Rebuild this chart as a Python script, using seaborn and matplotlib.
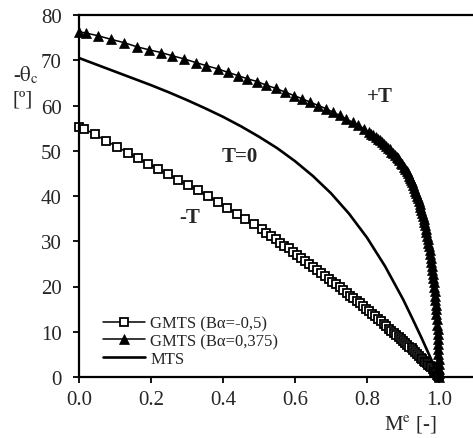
import matplotlib
matplotlib.use("Agg")
import matplotlib.pyplot as plt
import seaborn as sns
import pandas as pd

# GMTS, B-alpha = -0.5 (open squares)
me_neg = [0.000, 0.015, 0.045, 0.075, 0.105, 0.135, 0.165, 0.193, 0.220, 0.247,
          0.275, 0.303, 0.330, 0.357, 0.385, 0.412, 0.438, 0.462, 0.485, 0.507,
          0.520, 0.533, 0.546, 0.558, 0.570, 0.582, 0.594, 0.606, 0.618, 0.629,
          0.640, 0.651, 0.662, 0.673, 0.684, 0.694, 0.704, 0.714, 0.724, 0.734,
          0.744, 0.753, 0.762, 0.771, 0.780, 0.789, 0.798, 0.806, 0.814, 0.822,
          0.830, 0.838, 0.846, 0.853, 0.860, 0.867, 0.874, 0.881, 0.888, 0.894,
          0.900, 0.906, 0.912, 0.918, 0.924, 0.929, 0.934, 0.939, 0.944, 0.949,
          0.954, 0.958, 0.962, 0.966, 0.970, 0.974, 0.978, 0.982, 0.985, 0.988,
          0.991, 0.994, 0.997, 1.000]
th_neg = [55.3, 54.8, 53.6, 52.2, 50.9, 49.6, 48.3, 47.1, 46.0, 44.8,
          43.6, 42.4, 41.3, 40.0, 38.7, 37.4, 36.1, 34.9, 33.8, 32.6,
          31.9, 31.1, 30.4, 29.7, 29.0, 28.4, 27.7, 27.0, 26.3, 25.6,
          25.0, 24.3, 23.7, 23.0, 22.4, 21.7, 21.1, 20.5, 19.8, 19.2,
          18.6, 18.0, 17.4, 16.8, 16.3, 15.7, 15.1, 14.5, 14.0, 13.4,
          12.8, 12.3, 11.7, 11.2, 10.7, 10.2, 9.7, 9.3, 8.8, 8.3,
          7.9, 7.5, 7.1, 6.7, 6.3, 5.9, 5.5, 5.1, 4.7, 4.3,
          3.9, 3.6, 3.3, 3.0, 2.7, 2.4, 2.1, 1.7, 1.4, 1.1,
          0.8, 0.5, 0.2, 0.0]

# GMTS, B-alpha = 0.375 (filled triangles)
me_pos = [0.000, 0.020, 0.054, 0.090, 0.125, 0.160, 0.195, 0.228, 0.259, 0.292,
          0.324, 0.354, 0.385, 0.415, 0.442, 0.468, 0.495, 0.520, 0.546, 0.572,
          0.597, 0.620, 0.643, 0.665, 0.686, 0.706, 0.725, 0.743, 0.760, 0.776,
          0.791, 0.805, 0.812, 0.818, 0.824, 0.830, 0.836, 0.842, 0.848, 0.853,
          0.858, 0.863, 0.868, 0.873, 0.878, 0.882, 0.886, 0.890, 0.894, 0.898,
          0.902, 0.906, 0.910, 0.913, 0.916, 0.919, 0.922, 0.925, 0.928, 0.931,
          0.934, 0.936, 0.939, 0.941, 0.944, 0.946, 0.948, 0.951, 0.953, 0.955,
          0.957, 0.959, 0.961, 0.963, 0.965, 0.967, 0.969, 0.970, 0.972, 0.974,
          0.975, 0.977, 0.978, 0.980, 0.981, 0.983, 0.984, 0.985, 0.986, 0.988,
          0.989, 0.990, 0.991, 0.992, 0.993, 0.994, 0.995, 0.996, 0.9965, 0.997,
          0.9975, 0.998, 0.9985, 0.999, 0.9993, 0.9996, 0.9998, 1.000]
th_pos = [76.3, 76.0, 75.4, 74.6, 73.9, 73.0, 72.3, 71.7, 71.0, 70.3,
          69.5, 68.8, 68.1, 67.3, 66.6, 65.9, 65.3, 64.5, 63.8, 63.0,
          62.2, 61.5, 60.7, 60.0, 59.3, 58.5, 57.8, 57.0, 56.3, 55.6,
          54.9, 54.1, 53.7, 53.4, 53.0, 52.7, 52.3, 51.9, 51.5, 51.1,
          50.7, 50.3, 49.8, 49.4, 49.0, 48.7, 48.3, 47.9, 47.4, 47.0,
          46.5, 46.0, 45.5, 45.0, 44.5, 44.0, 43.5, 43.0, 42.4, 41.8,
          41.2, 40.7, 40.1, 39.5, 38.8, 38.2, 37.6, 36.9, 36.2, 35.6,
          34.9, 34.2, 33.5, 32.8, 32.0, 31.2, 30.4, 29.7, 28.9, 28.0,
          27.2, 26.3, 25.5, 24.6, 23.7, 22.8, 21.9, 21.0, 20.0, 19.0,
          18.0, 17.0, 16.0, 15.0, 13.9, 12.8, 11.6, 10.5, 9.4, 8.3,
          7.2, 6.1, 5.0, 3.9, 2.8, 1.8, 0.9, 0.0]

# MTS (solid line)
me_mts = [0.00, 0.05, 0.10, 0.15, 0.20, 0.25, 0.30, 0.35, 0.40, 0.45, 0.50,
          0.55, 0.60, 0.65, 0.70, 0.75, 0.80, 0.85, 0.90, 0.925, 0.95, 0.975, 1.00]
th_mts = [70.5, 69.0, 67.5, 66.0, 64.5, 62.9, 61.2, 59.4, 57.5, 55.4, 53.1,
          50.6, 47.7, 44.4, 40.6, 36.1, 30.8, 24.5, 17.2, 13.1, 8.9, 4.5, 0.0]

labels = ["GMTS (B\u03b1=-0,5)", "GMTS (B\u03b1=0,375)", "MTS"]

sns.set_style("ticks")
plt.rcParams["font.family"] = ["Liberation Serif", "DejaVu Serif"]
plt.rcParams["mathtext.fontset"] = "stix"

fig = plt.figure(figsize=(4.73, 4.39), dpi=100)
ax = fig.add_axes([79 / 473, 1 - 378 / 439, 394 / 473, 362 / 439])

df_neg = pd.DataFrame({"me": me_neg, "theta": th_neg})
df_pos = pd.DataFrame({"me": me_pos, "theta": th_pos})
df_mts = pd.DataFrame({"me": me_mts, "theta": th_mts})

sns.lineplot(data=df_neg, x="me", y="theta", ax=ax, sort=False, estimator=None,
             color="black", linewidth=1.1, marker="s", markersize=6.3,
             markerfacecolor="white", markeredgecolor="black", markeredgewidth=1.3,
             label=labels[0], clip_on=False)
sns.lineplot(data=df_pos, x="me", y="theta", ax=ax, sort=False, estimator=None,
             color="black", linewidth=1.1, marker="^", markersize=7.2,
             markerfacecolor="black", markeredgecolor="black", markeredgewidth=0.5,
             label=labels[1], clip_on=False)
sns.lineplot(data=df_mts, x="me", y="theta", ax=ax, sort=False, estimator=None,
             color="black", linewidth=1.9, label=labels[2])

ax.set_xlim(0, 394 / 360)
ax.set_ylim(0, 80)
ax.set_xticks([0.0, 0.2, 0.4, 0.6, 0.8, 1.0])
ax.set_xticklabels(["0.0", "0.2", "0.4", "0.6", "0.8", "1.0"])
ax.set_yticks(range(0, 81, 10))
ax.tick_params(axis="both", direction="out", length=4.5, width=1.3,
               labelsize=15, color="black")
ax.tick_params(axis="y", pad=8)
ax.tick_params(axis="x", pad=5)
ax.set_xlabel("")
ax.set_ylabel("")

for side in ["left", "bottom", "top"]:
    ax.spines[side].set_linewidth(1.6)
    ax.spines[side].set_color("black")
ax.spines["right"].set_visible(False)

ax.text(0.836, 62.1, "+T", fontsize=15, fontweight="bold", ha="center", va="center")
ax.text(0.447, 48.8, "T=0", fontsize=15, fontweight="bold", ha="center", va="center")
ax.text(0.308, 35.4, "-T", fontsize=15, fontweight="bold", ha="center", va="center")

fig.text(26 / 473, 1 - 75 / 439, r"-$\mathrm{\theta}_{\mathrm{c}}$", fontsize=15,
         ha="center", va="center")
fig.text(23 / 473, 1 - 100 / 439, "[\u00ba]", fontsize=15, ha="center", va="center")
fig.text(437 / 473, 1 - 425 / 439, r"M$^{\mathrm{e}}$ [-]", fontsize=15,
         ha="right", va="center")

ax.legend(loc="lower left", bbox_to_anchor=(0.045, 0.01), frameon=False,
          fontsize=12, handlelength=2.5, handletextpad=0.3, labelspacing=0.1,
          borderaxespad=0.0, numpoints=1)

fig.savefig("out.png", dpi=100)
